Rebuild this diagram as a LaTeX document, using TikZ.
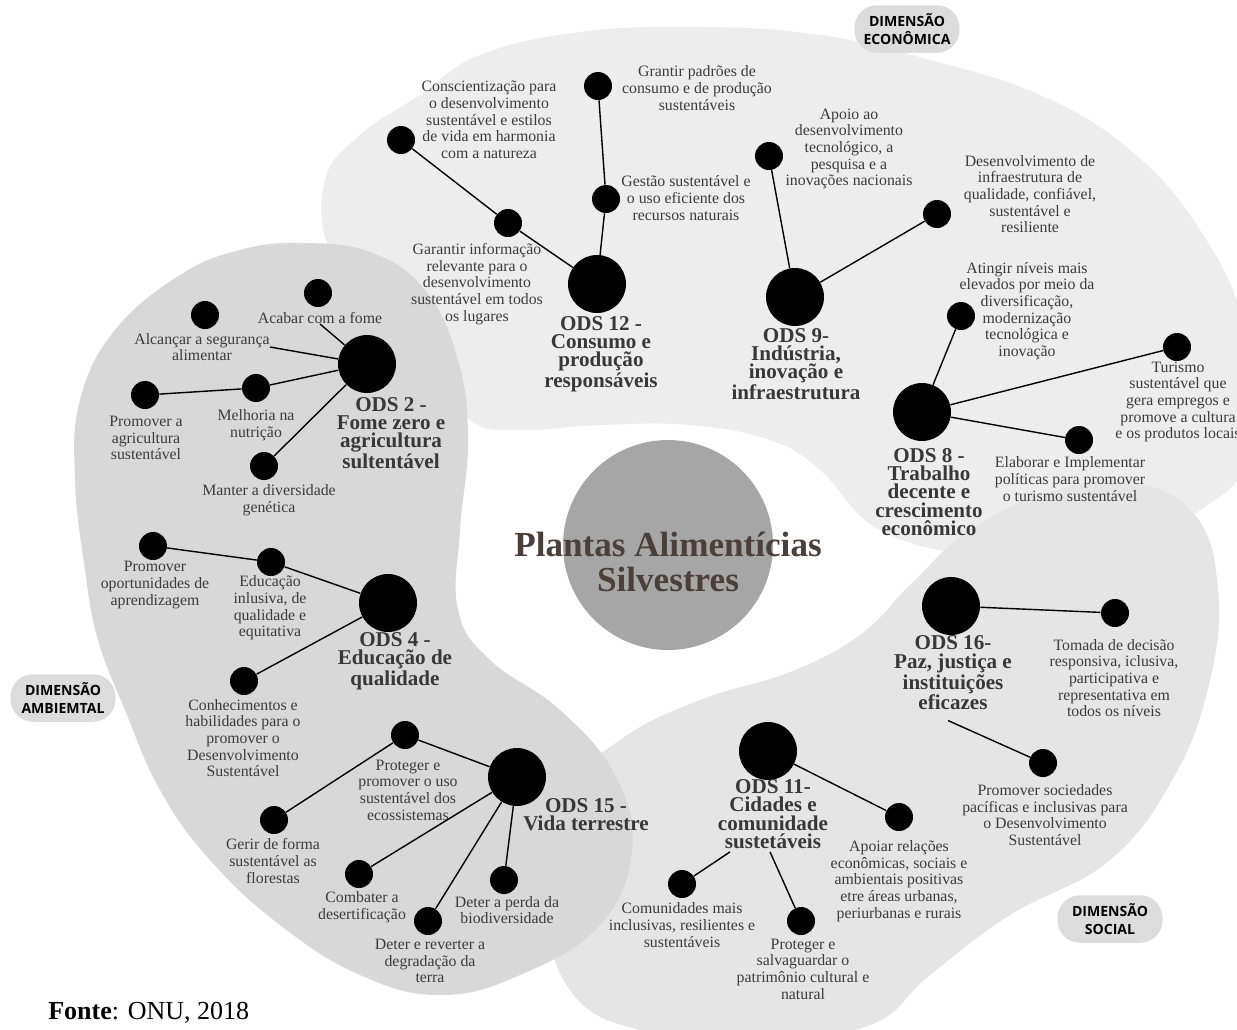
\documentclass[tikz,border=0pt]{standalone}
\usepackage{fontspec}
\usepackage{xcolor}
\usepackage{tikz}
\usetikzlibrary{positioning, calc, shapes}
\setmainfont{Liberation Serif}
\newfontfamily\abertafonte{Open Sans}
\definecolor{cinzaeco}{HTML}{EDEDED}
\definecolor{cinzasoc}{HTML}{E5E5E5}
\definecolor{cinzaamb}{HTML}{D8D8D8}
\definecolor{cinzacentro}{HTML}{A6A6A6}
\definecolor{cinzapilula}{HTML}{DCDCDC}
\definecolor{textocinza}{HTML}{3C3C3C}
\definecolor{titulocor}{HTML}{383838}
\definecolor{centrotexto}{HTML}{4B3F3A}
\newcommand{\rotulofonte}{\fontsize{9}{9.5}\selectfont}
\newcommand{\titulofonte}{\bfseries\fontsize{12}{10.4}\selectfont}
\newcommand{\centrofonte}{\bfseries\fontsize{20}{20}\selectfont}
\newcommand{\dimfonte}{\abertafonte\bfseries\fontsize{8}{10}\selectfont}
\tikzset{
	ods/.style={circle, fill=black, minimum size=1.16cm, inner sep=0pt},
	meta/.style={circle, fill=black, minimum size=0.56cm, inner sep=0pt},
	rotulo/.style={align=center, inner sep=0pt, text=textocinza, font=\rotulofonte},
	titulo/.style={align=center, inner sep=0pt, text=titulocor, font=\titulofonte},
	dimensao/.style={rectangle, rounded corners=0.45cm, fill=cinzapilula, minimum width=2.1cm, minimum height=0.95cm, align=center, inner sep=0pt, font=\dimfonte},
	linha/.style={line width=0.8pt, black},
}

\begin{document}
\begin{tikzpicture}[x=0.02cm, y=-0.02cm]
	\useasboundingbox (0,0) rectangle (1237,1029);
	\fill[white] (0,0) rectangle (1237,1029);
	
	% dimensoes
	\fill[cinzaeco] plot[smooth cycle, tension=0.7] coordinates {(330,250) (325,180) (360,135) (420,95) (480,55) (580,32) (700,27) (820,35) (930,60) (1040,95) (1130,150) (1200,230) (1245,330) (1250,450) (1200,510) (1100,550) (980,555) (880,530) (820,470) (770,440) (690,425) (600,425) (520,430) (470,420) (420,360) (380,300)};
	\fill[cinzasoc] plot[smooth cycle, tension=0.7] coordinates {(560,800) (620,740) (700,700) (790,672) (860,635) (910,585) (970,530) (1050,492) (1130,482) (1195,515) (1218,590) (1210,680) (1175,775) (1110,860) (1010,915) (930,975) (870,1025) (760,1040) (640,1030) (570,990) (545,900)};
	\fill[cinzaamb] plot[smooth cycle, tension=0.7] coordinates {(300,243) (370,252) (425,290) (458,360) (468,440) (460,530) (458,610) (490,660) (560,710) (615,775) (632,850) (600,925) (520,975) (440,995) (360,975) (280,925) (210,860) (160,790) (125,710) (98,640) (85,570) (75,480) (80,400) (115,330) (180,275) (240,250)};
	
	\node[dimensao] (deco) at (907,29) {DIMENSÃO\\ECONÔMICA};
	\node[dimensao] (damb) at (63,698) {DIMENSÃO\\AMBIEMTAL};
	\node[dimensao] (dsoc) at (1110,919) {DIMENSÃO\\SOCIAL};
	
	% centro
	\node[circle, fill=cinzacentro, minimum size=4.2cm] (centro) at (668,545) {};
	\node[align=center, inner sep=0pt, text=centrotexto, font=\centrofonte] (tcentro) at (668,562) {Plantas Alimentícias\\Silvestres};
	
	% ODS 12
	\node[ods] (ods12) at (597,284) {};
	\node[meta] (m12a) at (598,86) {};
	\node[meta] (m12b) at (606,199) {};
	\node[meta] (m12c) at (508,223) {};
	\node[meta] (m12d) at (401,140) {};
	\node[rotulo] (t12a) at (697,88) {Grantir padrões de\\consumo e de produção\\sustentáveis};
	\node[rotulo] (t12b) at (686,198) {Gestão sustentável e\\o uso eficiente dos\\recursos naturais};
	\node[rotulo] (t12c) at (477,284) {Garantir informação\\relevante para o\\desenvolvimento\\sustentável em todos\\os lugares};
	\node[rotulo] (t12d) at (489,120) {Conscientização para\\o desenvolvimento\\sustentável e estilos\\de vida em harmonia\\com a natureza};
	\node[titulo] (n12) at (601,354) {ODS 12 -\\Consumo e\\produção\\responsáveis};
	\draw[linha] (m12a) -- (m12b) -- (ods12);
	\draw[linha] (m12d) -- (m12c) -- (ods12);
	
	% ODS 9
	\node[ods] (ods9) at (795,297) {};
	\node[meta] (m9a) at (769,156) {};
	\node[meta] (m9b) at (937,214) {};
	\node[rotulo] (t9a) at (849,149) {Apoio ao\\desenvolvimento\\tecnológico, a\\pesquisa e a\\inovações nacionais};
	\node[rotulo] (t9b) at (1030,194) {Desenvolvimento de\\infraestrutura de\\qualidade, confiável,\\sustentável e\\resiliente};
	\node[titulo] (n9) at (796,364) {ODS 9-\\Indústria,\\inovação e\\infraestrutura};
	\draw[linha] (ods9) -- (m9a);
	\draw[linha] (ods9) -- (m9b);
	
	% ODS 8
	\node[ods] (ods8) at (922,412) {};
	\node[meta] (m8a) at (961,316) {};
	\node[meta] (m8b) at (1177,347) {};
	\node[meta] (m8c) at (1079,440) {};
	\node[rotulo] (t8a) at (1027,311) {Atingir níveis mais\\elevados por meio da\\diversificação,\\modernização\\tecnológica e\\inovação};
	\node[rotulo] (t8b) at (1178,402) {Turismo\\sustentável que\\gera empregos e\\promove a cultura\\e os produtos locais};
	\node[rotulo] (t8c) at (1070,479) {Elaborar e Implementar\\políticas para promover\\o turismo sustentável};
	\node[titulo] (n8) at (929,492) {ODS 8 -\\Trabalho\\decente e\\crescimento\\econômico};
	\draw[linha] (ods8) -- (m8a);
	\draw[linha] (ods8) -- (m8b);
	\draw[linha] (ods8) -- (m8c);
	
	% ODS 2
	\node[ods] (ods2) at (367,364) {};
	\node[meta] (m2a) at (318,293) {};
	\node[meta] (m2b) at (205,315) {};
	\node[meta] (m2c) at (145,395) {};
	\node[meta] (m2d) at (256,388) {};
	\node[meta] (m2e) at (264,466) {};
	\node[rotulo] (t2a) at (320,318) {Acabar com a fome};
	\node[rotulo] (t2b) at (202,347) {Alcançar a segurança\\alimentar};
	\node[rotulo] (t2c) at (146,438) {Promover a\\agricultura\\sustentável};
	\node[rotulo] (t2d) at (256,425) {Melhoria na\\nutrição};
	\node[rotulo] (t2e) at (269,500) {Manter a diversidade\\genética};
	\node[titulo] (n2) at (391,433) {ODS 2 -\\Fome zero e\\agricultura\\sultentável};
	\draw[linha] (t2a.south) -- (ods2);
	\draw[linha] (t2b.east) -- (ods2);
	\draw[linha] (m2c) -- (m2d) -- (ods2);
	\draw[linha] (m2e) -- (ods2);
	
	% ODS 4
	\node[ods] (ods4) at (388,603) {};
	\node[meta] (m4a) at (153,546) {};
	\node[meta] (m4b) at (271,562) {};
	\node[meta] (m4c) at (244,681) {};
	\node[rotulo] (t4a) at (155,585) {Promover\\oportunidades de\\aprendizagem};
	\node[rotulo] (t4b) at (270,608) {Educação\\inlusiva, de\\qualidade e\\equitativa};
	\node[rotulo] (t4c) at (243,738) {Conhecimentos e\\habilidades para o\\promover o\\Desenvolvimento\\Sustentável};
	\node[titulo] (n4) at (395,661) {ODS 4 -\\Educação de\\qualidade};
	\draw[linha] (m4a) -- (m4b) -- (ods4);
	\draw[linha] (m4c) -- (ods4);
	
	% ODS 15
	\node[ods] (ods15) at (517,777) {};
	\node[meta] (m15a) at (405,735) {};
	\node[meta] (m15b) at (274,820) {};
	\node[meta] (m15c) at (359,874) {};
	\node[meta] (m15d) at (428,921) {};
	\node[meta] (m15e) at (504,880) {};
	\node[rotulo] (t15a) at (408,790) {Proteger e\\promover o uso\\sustentável dos\\ecossistemas};
	\node[rotulo] (t15b) at (273,861) {Gerir de forma\\sustentável as\\florestas};
	\node[rotulo] (t15c) at (362,907) {Combater a\\desertificação};
	\node[rotulo] (t15d) at (430,961) {Deter e reverter a\\degradação da\\terra};
	\node[rotulo] (t15e) at (507,910) {Deter a perda da\\biodiversidade};
	\node[titulo] (n15) at (586,815) {ODS 15 -\\Vida terrestre};
	\draw[linha] (m15b) -- (m15a) -- (ods15);
	\draw[linha] (ods15) -- (m15c);
	\draw[linha] (ods15) -- (m15d);
	\draw[linha] (ods15) -- (m15e);
	
	% ODS 11
	\node[ods] (ods11) at (768,751) {};
	\node[meta] (m11a) at (682,884) {};
	\node[meta] (m11b) at (801,921) {};
	\node[meta] (m11c) at (899,817) {};
	\node[rotulo] (t11a) at (682,925) {Comunidades mais\\inclusivas, resilientes e\\sustentáveis};
	\node[rotulo] (t11b) at (803,969) {Proteger e\\salvaguardar o\\patrimônio cultural e\\natural};
	\node[rotulo] (t11c) at (899,881) {Apoiar relações\\econômicas, sociais e\\ambientais positivas\\etre áreas urbanas,\\periurbanas e rurais};
	\node[titulo] (n11) at (773,814) {ODS 11-\\Cidades e\\comunidade\\sustetáveis};
	\draw[linha] (ods11) -- (m11c);
	\draw[linha] (m11a) -- ([xshift=-0.86cm, yshift=-0.06cm]n11.south);
	\draw[linha] (m11b) -- ([xshift=-0.06cm, yshift=-0.06cm]n11.south);
	
	% ODS 16
	\node[ods] (ods16) at (951,606) {};
	\node[meta] (m16a) at (1115,613) {};
	\node[meta] (m16b) at (1043,763) {};
	\node[rotulo] (t16a) at (1114,678) {Tomada de decisão\\responsiva, iclusiva,\\participativa e\\representativa em\\todos os níveis};
	\node[rotulo] (t16b) at (1045,815) {Promover sociedades\\pacíficas e inclusivas para\\o Desenvolvimento\\Sustentável};
	\node[titulo] (n16) at (953,673) {ODS 16-\\Paz, justiça e\\instituições\\eficazes};
	\draw[linha] (ods16) -- (m16a);
	\draw[linha] ([xshift=-0.1cm, yshift=-0.2cm]n16.south) -- (m16b);
	
	\node[anchor=west, inner sep=0pt, font=\fontsize{14.8}{16}\selectfont] (fonte) at (48,1013) {\textbf{Fonte}: ONU, 2018};
\end{tikzpicture}
\end{document}
